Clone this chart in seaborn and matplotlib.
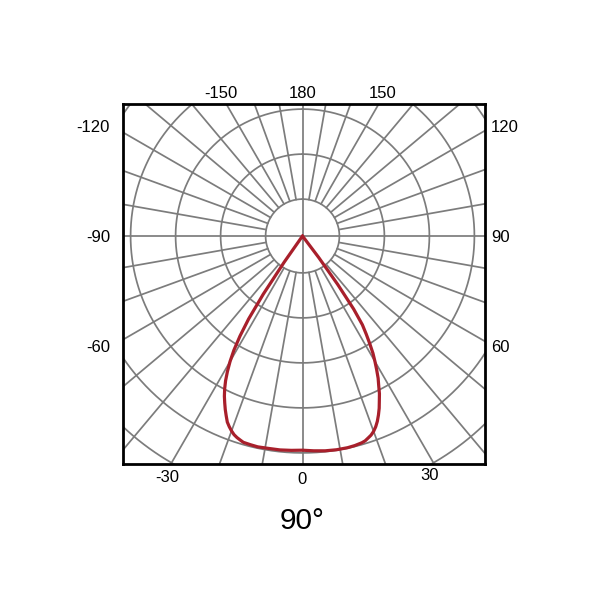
import numpy as np
import pandas as pd
import matplotlib
matplotlib.use("Agg")
import matplotlib.pyplot as plt
import seaborn as sns

# ---- data (luminous intensity vs angle, 0 deg = straight down) ----
left_angles = [-35.5, -35, -34, -33, -32, -31, -30, -29, -28, -27, -26, -25, -24, -23, -22, -21,
               -20, -19, -18, -17, -16, -14, -12, -9, -6, -3, 0]
left_values = [0, 71, 156, 220, 262, 296, 322, 344, 364, 381, 396, 409, 422, 434, 446, 454,
               461, 467, 471, 474, 477, 478, 479, 478, 478, 477, 476]
right_angles = [3, 6, 9, 12, 14, 16, 17, 18, 19, 20, 21, 22, 23, 24, 25, 26, 27, 28, 29, 30,
                31, 32, 33, 34, 35, 36, 37, 37.5]
right_values = [478, 480, 481, 481, 480, 478, 476, 472, 468, 462, 454, 444, 432, 419, 404, 390,
                373, 358, 340, 322, 304, 282, 260, 238, 198, 133, 60, 0]

ring_radii = [82, 182, 282, 382, 482, 582, 682]
spoke_angles = list(range(-170, 190, 10))
axis_angles = [-90, 0, 90, 180]

tick_labels = ["180", "-150", "150", "-120", "120", "-90", "90", "-60", "60", "-30", "0", "30"]
title_text = "90°"

# ---- styling ----
sns.set_theme(style="white")
plt.rcParams["font.family"] = ["Liberation Sans", "DejaVu Sans"]
GRID = "#7c7c7c"
RED = "#a81f2b"

fig = plt.figure(figsize=(6, 6), dpi=100)
W = H = 600.0
box_l, box_r, box_t, box_b = 123, 485, 104, 464
cx, cy = 302.5, 236.0
scale = 100.0 / 45.0  # data units per pixel

ax = fig.add_axes([box_l / W, 1 - box_b / H, (box_r - box_l) / W, (box_b - box_t) / H])
ax.set_xlim((box_l - cx) * scale, (box_r - cx) * scale)
ax.set_ylim(-(box_b - cy) * scale, (cy - box_t) * scale)

# rings
t = np.linspace(0, 2 * np.pi, 720)
for R in ring_radii:
    ax.plot(R * np.sin(t), R * np.cos(t), color=GRID, lw=1.25, zorder=1)

# spokes
for a in spoke_angles:
    r0 = 0 if a in axis_angles else ring_radii[0]
    r1 = 900
    th = np.deg2rad(a)
    ax.plot([r0 * np.sin(th), r1 * np.sin(th)], [-r0 * np.cos(th), -r1 * np.cos(th)],
            color=GRID, lw=1.25, zorder=1)

# curve
ang = np.array(left_angles + right_angles, dtype=float)
val = np.array(left_values + right_values, dtype=float)
df = pd.DataFrame({"x": val * np.sin(np.deg2rad(ang)), "y": -val * np.cos(np.deg2rad(ang))})
sns.lineplot(data=df, x="x", y="y", sort=False, estimator=None, color=RED, lw=2.3, ax=ax, zorder=3)
for ln in ax.lines[-1:]:
    ln.set_solid_joinstyle("round")

ax.set_xticks([])
ax.set_yticks([])
ax.set_xlabel("")
ax.set_ylabel("")
for s in ax.spines.values():
    s.set_visible(True)
    s.set_color("black")
    s.set_linewidth(2.0)
    s.set_zorder(5)

# angle labels (positions in figure pixels)
label_pos = [(302.5, 93, "center"), (220.5, 93, "center"), (383, 93, "center"),
             (110, 128, "right"), (491, 128, "left"),
             (110, 237, "right"), (491, 237, "left"),
             (110, 347, "right"), (491, 347, "left"),
             (167.5, 477, "center"), (302.5, 479, "center"), (430, 475, "center")]
for txt, (px, py, ha) in zip(tick_labels, label_pos):
    fig.text(px / W, 1 - py / H, txt, ha=ha, va="center", fontsize=12, color="black")

fig.text(302.5 / W, 1 - 521 / H, title_text, ha="center", va="center", fontsize=21.5, color="black")

fig.savefig("out.png", dpi=100)
